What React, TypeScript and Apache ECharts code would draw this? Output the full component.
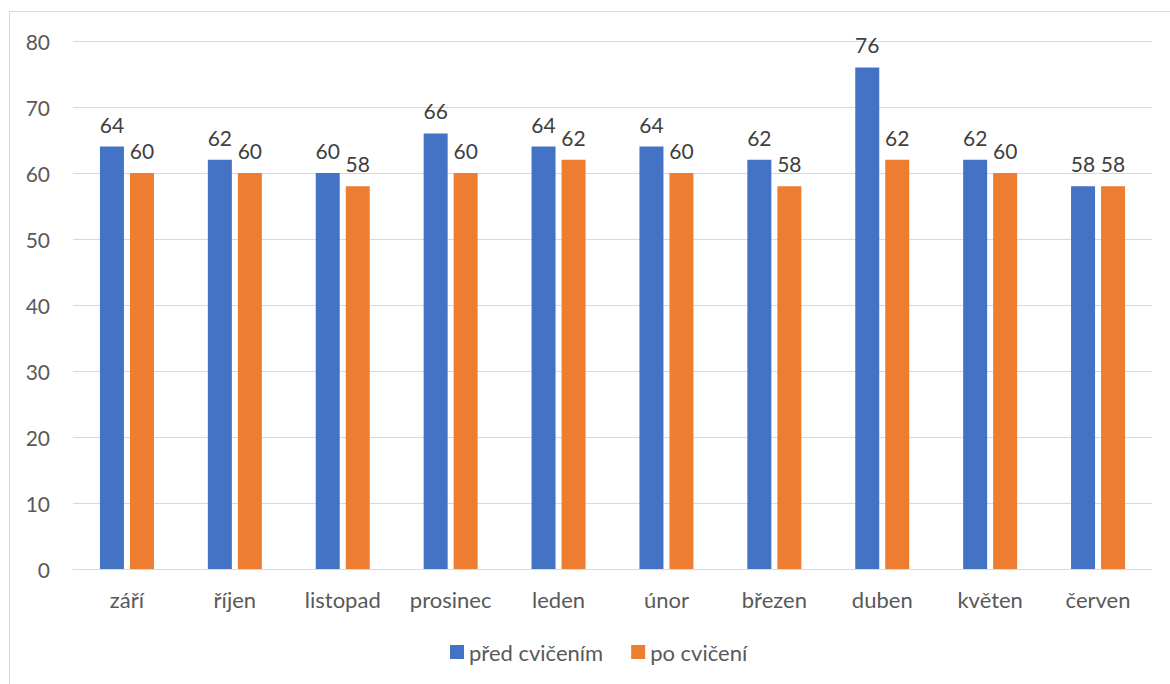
import React, { useEffect, useRef } from "react";
import * as echarts from "echarts";

const months = ["září", "říjen", "listopad", "prosinec", "leden", "únor", "březen", "duben", "květen", "červen"];
const before = [64, 62, 60, 66, 64, 64, 62, 76, 62, 58];
const after = [60, 60, 58, 60, 62, 60, 58, 62, 60, 58];
const seriesNames = ["před cvičením", "po cvičení"];

const FONT = "Lato, 'Open Sans', sans-serif";

export default function App() {
  const ref = useRef<HTMLDivElement>(null);

  useEffect(() => {
    if (!ref.current) return;
    const chart = echarts.init(ref.current, undefined, { renderer: "svg" });
    const label = {
      show: true,
      position: "top" as const,
      distance: 12,
      color: "#404040",
      fontSize: 21,
      fontFamily: FONT,
    };
    chart.setOption({
      animation: false,
      backgroundColor: "#ffffff",
      textStyle: { fontFamily: FONT },
      graphic: [
        {
          type: "rect",
          shape: { x: 9.5, y: 11.5, width: 1200, height: 700 },
          style: { fill: "none", stroke: "#d9d9d9", lineWidth: 1 },
          silent: true,
          z: -10,
        },
      ],
      grid: { left: 73, right: 18, top: 41, bottom: 115, containLabel: false },
      legend: {
        data: seriesNames,
        top: 636,
        left: 445,
        itemWidth: 14,
        itemHeight: 14,
        itemGap: 28,
        itemTextGap: 7,
        icon: "rect",
        textStyle: { color: "#595959", fontSize: 22, fontFamily: FONT },
      },
      xAxis: {
        type: "category",
        data: months,
        axisLine: { lineStyle: { color: "#d9d9d9", width: 1 } },
        axisTick: { show: false },
        axisLabel: { color: "#595959", fontSize: 22, margin: 19, fontFamily: FONT },
      },
      yAxis: {
        type: "value",
        min: 0,
        max: 80,
        interval: 10,
        axisLine: { show: false },
        axisTick: { show: false },
        axisLabel: { color: "#595959", fontSize: 21, margin: 23, fontFamily: FONT },
        splitLine: { lineStyle: { color: "#d9d9d9", width: 1 } },
      },
      series: [
        {
          name: seriesNames[0],
          type: "bar",
          data: before,
          barWidth: 24,
          barGap: "25%",
          itemStyle: { color: "#4472C4" },
          label,
        },
        {
          name: seriesNames[1],
          type: "bar",
          data: after,
          barWidth: 24,
          barGap: "25%",
          itemStyle: { color: "#ED7D31" },
          label,
        },
      ],
    });
    return () => chart.dispose();
  }, []);

  return (
    <div
      ref={ref}
      style={{ position: "fixed", left: 0, top: 0, width: 1170, height: 684 }}
    />
  );
}
